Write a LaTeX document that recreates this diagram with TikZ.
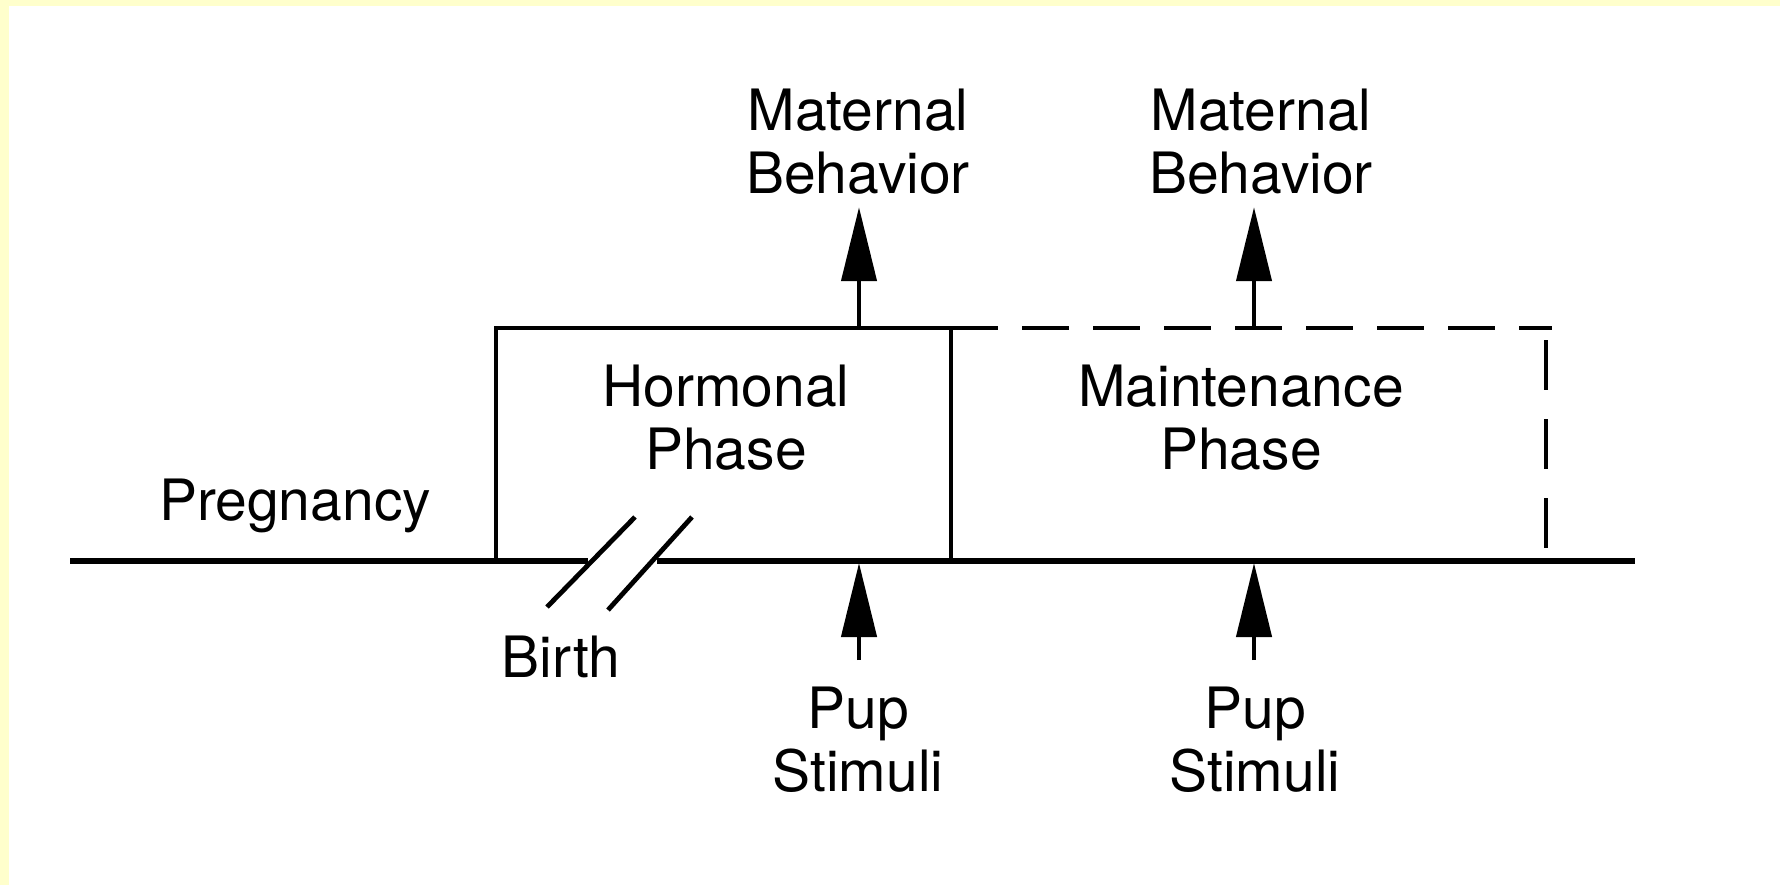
\documentclass[tikz,border=0pt]{standalone}
\usepackage{fontspec}
\setmainfont{TeX Gyre Heros}
\usepackage{xcolor}
\usetikzlibrary{arrows.meta}
\definecolor{paperyellow}{RGB}{255,255,204}

\begin{document}
\begin{tikzpicture}[x=0.5pt, y=-0.5pt,
  lbl/.style={font=\fontsize{28.5}{31.5}\selectfont, align=center, inner sep=0pt, anchor=north},
  stem/.style={line width=2.2pt, -{Triangle[length=37pt, width=17.5pt]}},
  boxline/.style={line width=2pt},
  dashline/.style={line width=2pt, dash pattern=on 23.5pt off 12pt}]
  % paper and yellow frame
  \fill[paperyellow] (0,0) rectangle (1780,885);
  \fill[white] (9,6) rectangle (1780,885);
  \useasboundingbox (0,0) rectangle (1780,885);
  % time line, broken at birth
  \draw[line width=2.8pt] (70,561) -- (588,561);
  \draw[line width=2.8pt] (657,561) -- (1635,561);
  \draw[line width=2.4pt] (547,607) -- (635,517);
  \draw[line width=2.4pt] (608,610) -- (692,517);
  % hormonal phase box
  \draw[boxline] (496,561) -- (496,328) -- (951,328) -- (951,561);
  % maintenance phase, open end
  \draw[dashline] (951,328) -- (1552,328);
  \draw[line width=2pt, dash pattern=on 25pt off 14.5pt] (1546,340) -- (1546,548);
  % labels
  \node[lbl] (matbeh1) at (858,89) {Maternal\\Behavior};
  \node[lbl] (matbeh2) at (1261,89) {Maternal\\Behavior};
  \node[lbl] (hormonal) at (726,365) {Hormonal\\Phase};
  \node[lbl] (maintenance) at (1241,365) {Maintenance\\Phase};
  \node[lbl] (pregnancy) at (295,479) {Pregnancy};
  \node[lbl] (birth) at (561,636) {Birth};
  \node[lbl] (pup1) at (858,687) {Pup\\Stimuli};
  \node[lbl] (pup2) at (1255,687) {Pup\\Stimuli};
  % arrow ends on the boxes and the line
  \coordinate (hormtop) at (859,328);
  \coordinate (mainttop) at (1254,328);
  \coordinate (hormbot) at (859,563);
  \coordinate (maintbot) at (1254,563);
  % arrows
  \draw[stem, shorten >=6pt] (hormtop) -- (hormtop |- matbeh1.south);
  \draw[stem, shorten >=6pt] (mainttop) -- (mainttop |- matbeh2.south);
  \draw[stem, shorten <=13.5pt] (hormbot |- pup1.north) -- (hormbot);
  \draw[stem, shorten <=13.5pt] (maintbot |- pup2.north) -- (maintbot);
\end{tikzpicture}
\end{document}
